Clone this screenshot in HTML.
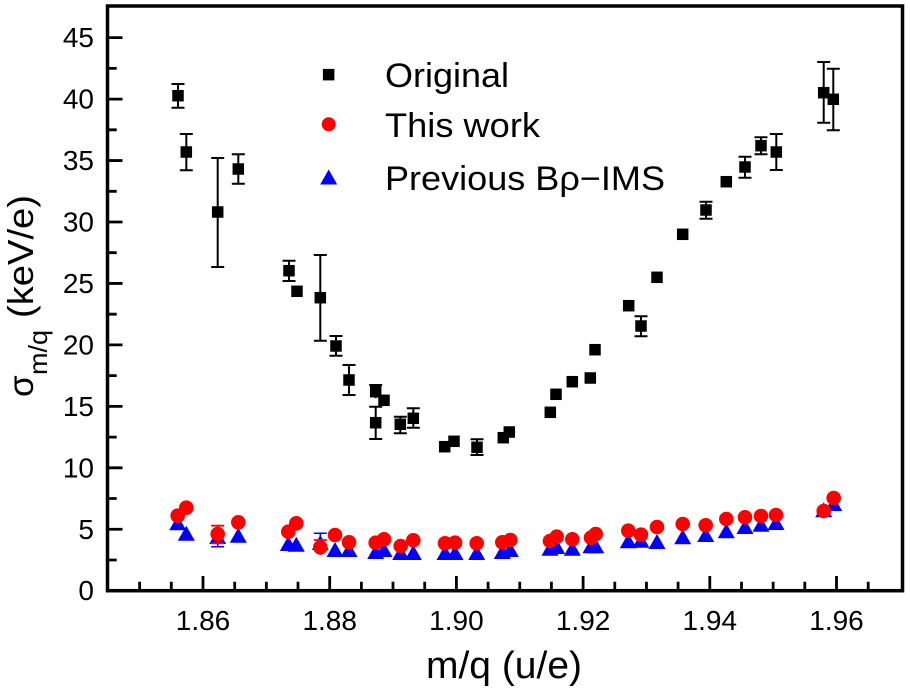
<!DOCTYPE html>
<html><head><meta charset="utf-8"><style>
html,body{margin:0;padding:0;background:#fff;}
svg{display:block;}
text{font-family:"Liberation Sans",Arial,sans-serif;fill:#000;}
</style></head><body>
<svg width="910" height="689" viewBox="0 0 910 689" xmlns="http://www.w3.org/2000/svg">
<rect x="0" y="0" width="910" height="689" fill="#fff"/>

<!-- ticks -->
<g stroke="#000" stroke-width="2.8" fill="none">
<path d="M139.65 590.7V581.7M171.3 590.7V581.7M234.7 590.7V581.7M266.35 590.7V581.7M298 590.7V581.7M361.4 590.7V581.7M393 590.7V581.7M424.7 590.7V581.7M488.1 590.7V581.7M519.75 590.7V581.7M551.4 590.7V581.7M614.8 590.7V581.7M646.45 590.7V581.7M678.1 590.7V581.7M741.5 590.7V581.7M773.15 590.7V581.7M804.8 590.7V581.7M868.2 590.7V581.7"/>
<path d="M203 590.7V576M329.7 590.7V576M456.4 590.7V576M583.1 590.7V576M709.8 590.7V576M836.5 590.7V576"/>
<path d="M107.5 560H116.7M107.5 498.5H116.7M107.5 437.1H116.7M107.5 375.6H116.7M107.5 314.2H116.7M107.5 252.7H116.7M107.5 191.3H116.7M107.5 129.8H116.7M107.5 68.4H116.7"/>
<path d="M107.5 529.25H122.5M107.5 467.8H122.5M107.5 406.35H122.5M107.5 344.9H122.5M107.5 283.45H122.5M107.5 222H122.5M107.5 160.55H122.5M107.5 99.1H122.5M107.5 37.65H122.5"/>
</g>
<rect x="107.5" y="6" width="795" height="584.7" fill="none" stroke="#000" stroke-width="3.5"/>

<!-- y tick labels -->
<g font-size="28" text-anchor="end">
<text x="94" y="600.2">0</text>
<text x="94" y="538.75">5</text>
<text x="94" y="477.3">10</text>
<text x="94" y="415.85">15</text>
<text x="94" y="354.4">20</text>
<text x="94" y="292.95">25</text>
<text x="94" y="231.5">30</text>
<text x="94" y="170.05">35</text>
<text x="94" y="108.6">40</text>
<text x="94" y="47.15">45</text>
</g>
<!-- x tick labels -->
<g font-size="28" text-anchor="middle">
<text x="203" y="630">1.86</text>
<text x="329.7" y="630">1.88</text>
<text x="456.4" y="630">1.90</text>
<text x="583.1" y="630">1.92</text>
<text x="709.8" y="630">1.94</text>
<text x="836.5" y="630">1.96</text>
</g>

<!-- axis titles -->
<text x="426" y="678" font-size="38" textLength="156" lengthAdjust="spacingAndGlyphs">m/q (u/e)</text>
<text transform="translate(33,397) rotate(-90)" font-size="35">σ</text>
<text transform="translate(47,375) rotate(-90)" font-size="26" textLength="45" lengthAdjust="spacingAndGlyphs">m/q</text>
<text transform="translate(33,318) rotate(-90)" font-size="36" textLength="123" lengthAdjust="spacingAndGlyphs">(keV/e)</text>

<!-- Original error bars -->
<g stroke="#000" stroke-width="2" fill="none">
<path d="M178 84V107.7M171.5 84H184.5M171.5 107.7H184.5"/>
<path d="M186.3 134V170.3M179.8 134H192.8M179.8 170.3H192.8"/>
<path d="M217.7 158V267M211.2 158H224.2M211.2 267H224.2"/>
<path d="M238.3 154.3V183.7M231.8 154.3H244.8M231.8 183.7H244.8"/>
<path d="M289 260.7V281M282.5 260.7H295.5M282.5 281H295.5"/>
<path d="M320.3 255V340.7M313.8 255H326.8M313.8 340.7H326.8"/>
<path d="M336 336V355.7M329.5 336H342.5M329.5 355.7H342.5"/>
<path d="M349 365V395M342.5 365H355.5M342.5 395H355.5"/>
<path d="M375.7 385V398.3M369.2 385H382.2"/>
<path d="M375.7 406.7V439M369.2 406.7H382.2M369.2 439H382.2"/>
<path d="M400.3 416.7V433.3M393.8 416.7H406.8M393.8 433.3H406.8"/>
<path d="M413.3 408.3V427.7M406.8 408.3H419.8M406.8 427.7H419.8"/>
<path d="M477 439.3V455M470.5 439.3H483.5M470.5 455H483.5"/>
<path d="M641 316.3V336.3M634.5 316.3H647.5M634.5 336.3H647.5"/>
<path d="M706 201.7V218.7M699.5 201.7H712.5M699.5 218.7H712.5"/>
<path d="M745 156.7V177.7M738.5 156.7H751.5M738.5 177.7H751.5"/>
<path d="M761 137.3V154.3M754.5 137.3H767.5M754.5 154.3H767.5"/>
<path d="M776.3 134V170M769.8 134H782.8M769.8 170H782.8"/>
<path d="M823.7 62V122.7M817.2 62H830.2M817.2 122.7H830.2"/>
<path d="M833.3 68.7V130.3M826.8 68.7H839.8M826.8 130.3H839.8"/>
</g>
<!-- Original squares -->
<g fill="#000">
<rect x="172.25" y="89.95" width="11.5" height="11.5"/>
<rect x="180.55" y="146.25" width="11.5" height="11.5"/>
<rect x="211.95" y="206.25" width="11.5" height="11.5"/>
<rect x="232.55" y="163.25" width="11.5" height="11.5"/>
<rect x="283.25" y="264.95" width="11.5" height="11.5"/>
<rect x="291.25" y="285.55" width="11.5" height="11.5"/>
<rect x="314.55" y="291.95" width="11.5" height="11.5"/>
<rect x="330.25" y="340.25" width="11.5" height="11.5"/>
<rect x="343.25" y="374.25" width="11.5" height="11.5"/>
<rect x="369.95" y="385.95" width="11.5" height="11.5"/>
<rect x="378.25" y="394.55" width="11.5" height="11.5"/>
<rect x="369.95" y="416.95" width="11.5" height="11.5"/>
<rect x="394.55" y="418.55" width="11.5" height="11.5"/>
<rect x="407.55" y="412.55" width="11.5" height="11.5"/>
<rect x="438.95" y="440.95" width="11.5" height="11.5"/>
<rect x="448.25" y="435.55" width="11.5" height="11.5"/>
<rect x="471.25" y="441.55" width="11.5" height="11.5"/>
<rect x="497.55" y="431.95" width="11.5" height="11.5"/>
<rect x="503.55" y="426.25" width="11.5" height="11.5"/>
<rect x="544.55" y="406.55" width="11.5" height="11.5"/>
<rect x="550.25" y="388.55" width="11.5" height="11.5"/>
<rect x="566.55" y="375.95" width="11.5" height="11.5"/>
<rect x="584.55" y="372.25" width="11.5" height="11.5"/>
<rect x="589.25" y="343.95" width="11.5" height="11.5"/>
<rect x="622.95" y="299.95" width="11.5" height="11.5"/>
<rect x="635.25" y="320.25" width="11.5" height="11.5"/>
<rect x="651.25" y="271.55" width="11.5" height="11.5"/>
<rect x="676.95" y="228.55" width="11.5" height="11.5"/>
<rect x="700.25" y="204.25" width="11.5" height="11.5"/>
<rect x="720.55" y="175.95" width="11.5" height="11.5"/>
<rect x="739.25" y="161.25" width="11.5" height="11.5"/>
<rect x="755.25" y="139.95" width="11.5" height="11.5"/>
<rect x="770.55" y="146.25" width="11.5" height="11.5"/>
<rect x="817.95" y="86.95" width="11.5" height="11.5"/>
<rect x="827.55" y="93.55" width="11.5" height="11.5"/>
</g>

<!-- Previous (blue triangles) -->
<g stroke="#0000ff" stroke-width="1.5" fill="none">
<path d="M217.7 530V546.7M211.2 546.7H224.2"/>
<path d="M320.3 533.3V553M313.8 533.3H326.8"/>
</g>
<g fill="#0000ff">
<path d="M177.7 515.3l8.5 15h-17z"/>
<path d="M186.3 525.7l8.5 15h-17z"/>
<path d="M217.7 529l8.5 15h-17z"/>
<path d="M238.3 527.7l8.5 15h-17z"/>
<path d="M288.3 536l8.5 15h-17z"/>
<path d="M296.3 536.7l8.5 15h-17z"/>
<path d="M320.3 535l8.5 15h-17z"/>
<path d="M335 542l8.5 15h-17z"/>
<path d="M349 542l8.5 15h-17z"/>
<path d="M375.7 544l8.5 15h-17z"/>
<path d="M384 542l8.5 15h-17z"/>
<path d="M400.7 545l8.5 15h-17z"/>
<path d="M413.3 545l8.5 15h-17z"/>
<path d="M445 545l8.5 15h-17z"/>
<path d="M455 545l8.5 15h-17z"/>
<path d="M476.7 545l8.5 15h-17z"/>
<path d="M502.3 544l8.5 15h-17z"/>
<path d="M510.3 542l8.5 15h-17z"/>
<path d="M550 540.7l8.5 15h-17z"/>
<path d="M556.7 539l8.5 15h-17z"/>
<path d="M572.3 540.7l8.5 15h-17z"/>
<path d="M591 538.3l8.5 15h-17z"/>
<path d="M595.7 538.3l8.5 15h-17z"/>
<path d="M628.3 533.3l8.5 15h-17z"/>
<path d="M641 532.7l8.5 15h-17z"/>
<path d="M657 534l8.5 15h-17z"/>
<path d="M682.7 529.3l8.5 15h-17z"/>
<path d="M705.7 527l8.5 15h-17z"/>
<path d="M726.3 523.3l8.5 15h-17z"/>
<path d="M745 519l8.5 15h-17z"/>
<path d="M761 516.7l8.5 15h-17z"/>
<path d="M776 515l8.5 15h-17z"/>
<path d="M823.7 502.3l8.5 15h-17z"/>
<path d="M833.7 496l8.5 15h-17z"/>
</g>

<!-- This work (red circles) -->
<g stroke="#ff0000" stroke-width="1.8" fill="none">
<path d="M217.7 525.7V543.3M211.2 525.7H224.2M211.2 543.3H224.2"/>
<path d="M320.3 540V555M313.8 540H326.8"/>
</g>
<g fill="#ff0000">
<circle cx="177.7" cy="515.7" r="7.3"/>
<circle cx="186.3" cy="507.7" r="7.3"/>
<circle cx="217.7" cy="534" r="7.3"/>
<circle cx="238.3" cy="522.3" r="7.3"/>
<circle cx="288.3" cy="531.7" r="7.3"/>
<circle cx="296.3" cy="523.3" r="7.3"/>
<circle cx="320.3" cy="547.3" r="7.3"/>
<circle cx="335" cy="535" r="7.3"/>
<circle cx="349" cy="542.3" r="7.3"/>
<circle cx="375.7" cy="542.7" r="7.3"/>
<circle cx="384" cy="539.3" r="7.3"/>
<circle cx="400.7" cy="546" r="7.3"/>
<circle cx="413.3" cy="540.3" r="7.3"/>
<circle cx="445" cy="543.3" r="7.3"/>
<circle cx="455" cy="542.7" r="7.3"/>
<circle cx="476.7" cy="543.3" r="7.3"/>
<circle cx="502.3" cy="542.3" r="7.3"/>
<circle cx="510.3" cy="540" r="7.3"/>
<circle cx="550" cy="541" r="7.3"/>
<circle cx="556.7" cy="536.7" r="7.3"/>
<circle cx="572.3" cy="539.3" r="7.3"/>
<circle cx="591" cy="537.7" r="7.3"/>
<circle cx="595.7" cy="534" r="7.3"/>
<circle cx="628.3" cy="530.7" r="7.3"/>
<circle cx="641" cy="534.7" r="7.3"/>
<circle cx="657" cy="527" r="7.3"/>
<circle cx="682.7" cy="524" r="7.3"/>
<circle cx="705.7" cy="525.3" r="7.3"/>
<circle cx="726.3" cy="519" r="7.3"/>
<circle cx="745" cy="517.3" r="7.3"/>
<circle cx="761" cy="516" r="7.3"/>
<circle cx="776" cy="515" r="7.3"/>
<circle cx="823.7" cy="511" r="7.3"/>
<circle cx="833.7" cy="498" r="7.3"/>
</g>

<!-- legend -->
<rect x="322.9" y="68.9" width="11.5" height="11.5" fill="#000"/>
<circle cx="328.7" cy="124.3" r="7" fill="#ff0000"/>
<path d="M328.7 169.5l8.5 15h-17z" fill="#0000ff"/>
<text x="385" y="87" font-size="34" textLength="124" lengthAdjust="spacingAndGlyphs">Original</text>
<text x="385" y="137" font-size="34" textLength="155" lengthAdjust="spacingAndGlyphs">This work</text>
<text x="385" y="190" font-size="34" textLength="280" lengthAdjust="spacingAndGlyphs">Previous Bρ−IMS</text>
</svg>
</body></html>
